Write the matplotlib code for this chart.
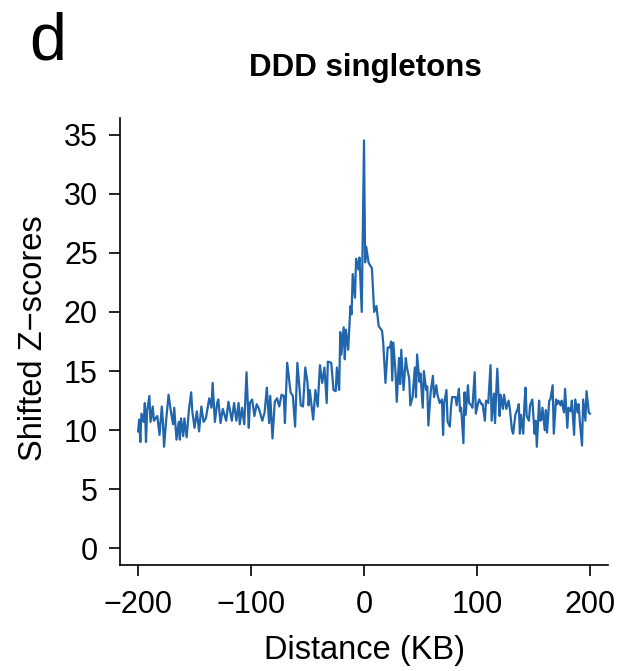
import matplotlib
matplotlib.use("Agg")
import matplotlib.pyplot as plt

# distance from site (KB) and shifted Z-scores
distance_kb = [
    -200, -199, -198, -197, -195, -194, -193, -192, -190, -189, -187, -186, -183, -181,
    -179, -178, -177, -175, -173, -171, -169, -168, -166, -164, -163, -162, -160, -159,
    -157, -155, -153, -152, -150, -148, -146, -144, -142, -140, -137, -135, -134, -132,
    -130, -129, -127, -125, -122, -120, -117, -115, -113, -111, -110, -108, -106, -104,
    -102, -101, -99, -97, -95, -93, -90, -88, -86, -84, -83, -81, -79, -77, -75, -73,
    -71, -70, -68, -65, -63, -61, -59, -57, -56, -54, -52, -50, -49, -48, -45, -43,
    -41, -39, -37, -35, -33, -32, -29, -27, -25, -24, -22, -21, -20, -18, -17, -16,
    -14, -12, -11, -10, -8, -7, -5, -4, -2, 0, 1, 2, 4, 5, 7, 9, 11, 13, 16, 17, 19,
    21, 23, 24, 25, 26, 28, 29, 31, 32, 33, 35, 37, 38, 40, 41, 43, 45, 46, 47, 49,
    50, 52, 53, 55, 56, 57, 59, 61, 62, 64, 65, 67, 69, 70, 71, 73, 74, 76, 77, 78,
    81, 82, 84, 85, 86, 88, 89, 90, 92, 93, 95, 96, 98, 99, 101, 102, 104, 105, 107,
    108, 110, 112, 113, 115, 116, 117, 118, 120, 121, 123, 124, 126, 128, 129, 131,
    132, 134, 136, 137, 138, 139, 141, 142, 143, 144, 146, 147, 149, 151, 152, 153,
    155, 156, 157, 158, 160, 161, 162, 164, 165, 167, 168, 170, 171, 172, 174, 175,
    177, 178, 180, 181, 183, 184, 186, 187, 189, 190, 191, 193, 194, 196, 197, 199, 200,
]
z_scores = [
    9.9, 10.9, 9.0, 11.4, 10.7, 12.3, 9.0, 11.6, 12.9, 10.7, 12.0, 10.8, 11.2, 9.6,
    12.0, 10.7, 8.6, 11.0, 13.0, 11.6, 10.5, 11.9, 9.2, 10.7, 9.2, 11.0, 9.5, 11.0,
    9.4, 11.7, 13.2, 11.6, 10.2, 11.6, 9.9, 12.0, 10.7, 11.0, 12.7, 11.9, 14.0, 10.7,
    12.3, 12.6, 10.6, 11.8, 10.8, 12.4, 10.8, 12.3, 10.8, 12.3, 10.5, 11.9, 10.5, 14.9,
    10.2, 12.3, 12.6, 11.2, 12.2, 11.8, 10.8, 11.5, 13.6, 10.6, 12.9, 9.3, 12.4, 12.7, 12.0, 13.0,
    12.9, 10.6, 15.7, 13.2, 12.9, 10.3, 15.7, 13.4, 12.1, 12.0, 15.3, 14.0, 12.1, 13.4, 10.9, 13.4,
    12.0, 15.5, 14.0, 15.3, 12.3, 15.8, 15.7, 13.4, 13.3, 15.3, 13.4, 18.3, 16.4, 18.7, 16.0, 18.5,
    16.8, 20.5, 19.8, 23.2, 21.2, 24.5, 23.6, 24.6, 20.0, 34.5, 24.2, 25.5, 24.2, 24.0, 23.7, 20.0, 20.5, 18.8, 18.4, 17.4, 14.0,
    17.0, 17.0, 17.5, 14.2, 17.4, 14.7, 12.4, 16.1, 13.9, 16.8, 13.4, 16.1, 15.3, 14.4, 12.1, 12.8, 15.3, 12.8, 16.4, 14.1,
    14.8, 11.9, 15.0, 13.4, 13.7, 10.4, 13.2, 14.6, 12.8, 13.8, 13.0, 12.3, 12.6, 9.6, 12.3, 13.4, 10.7, 10.3, 11.9, 12.8,
    12.8, 12.1, 13.5, 11.6, 11.9, 8.9, 13.2, 11.3, 13.8, 12.3, 12.1, 11.9, 14.9, 11.4, 12.3, 12.6, 12.2, 12.2, 10.8,
    12.5, 12.3, 15.5, 10.8, 13.1, 10.6, 13.1, 15.2, 11.2, 13.0, 11.8, 13.0, 11.8, 12.5, 11.9, 10.0,
    9.7, 11.3, 11.8, 12.2, 9.7, 11.3, 9.7, 12.2, 13.6, 11.2, 10.8, 12.1, 12.6, 9.7, 10.8, 8.6,
    12.5, 10.8, 10.9, 11.9, 10.0, 11.7, 9.8, 12.5, 12.6, 13.8, 9.7, 12.6, 12.2, 12.5, 12.1, 12.5,
    11.5, 13.5, 10.2, 11.9, 11.6, 12.5, 9.6, 12.6, 11.5, 12.2, 10.8, 8.7, 12.6, 10.8, 13.3, 11.5, 11.4,
]

x_ticks = [-200, -100, 0, 100, 200]
y_ticks = [0, 5, 10, 15, 20, 25, 30, 35]

plt.rcParams["font.family"] = ["Liberation Sans", "DejaVu Sans"]

fig = plt.figure(figsize=(6.29, 6.71), dpi=100)
ax = fig.add_axes([120 / 629, 1 - 565 / 671, 488 / 629, 447 / 671])

ax.plot(distance_kb, z_scores, color="#2166ac", linewidth=1.6)

# R-style "L" box with 4% padding
ax.set_xlim(-216, 216)
ax.set_ylim(-1.4, 36.4)
ax.spines["top"].set_visible(False)
ax.spines["right"].set_visible(False)
for side in ["left", "bottom"]:
    ax.spines[side].set_linewidth(1.2)

ax.set_xticks(x_ticks)
ax.set_yticks(y_ticks)
ax.set_xticklabels([str(t).replace("-", "\u2212") for t in x_ticks])
ax.tick_params(axis="both", direction="out", length=8, width=1.2, labelsize=22)
ax.tick_params(axis="x", pad=10)
ax.tick_params(axis="y", pad=8)

fig.text(364 / 629, 1 - 650 / 671, "Distance (KB)", fontsize=23.5, ha="center", va="center")
fig.text(34 / 629, 1 - 338 / 671, "Shifted Z\u2212scores", fontsize=23.5, ha="center",
         va="center", rotation=90)
fig.text(365 / 629, 1 - 68 / 671, "DDD singletons", fontsize=22.5, fontweight="bold",
         ha="center", va="center")
fig.text(48 / 629, 1 - 42 / 671, "d", fontsize=48, ha="center", va="center")

fig.savefig("out.png", dpi=100)
